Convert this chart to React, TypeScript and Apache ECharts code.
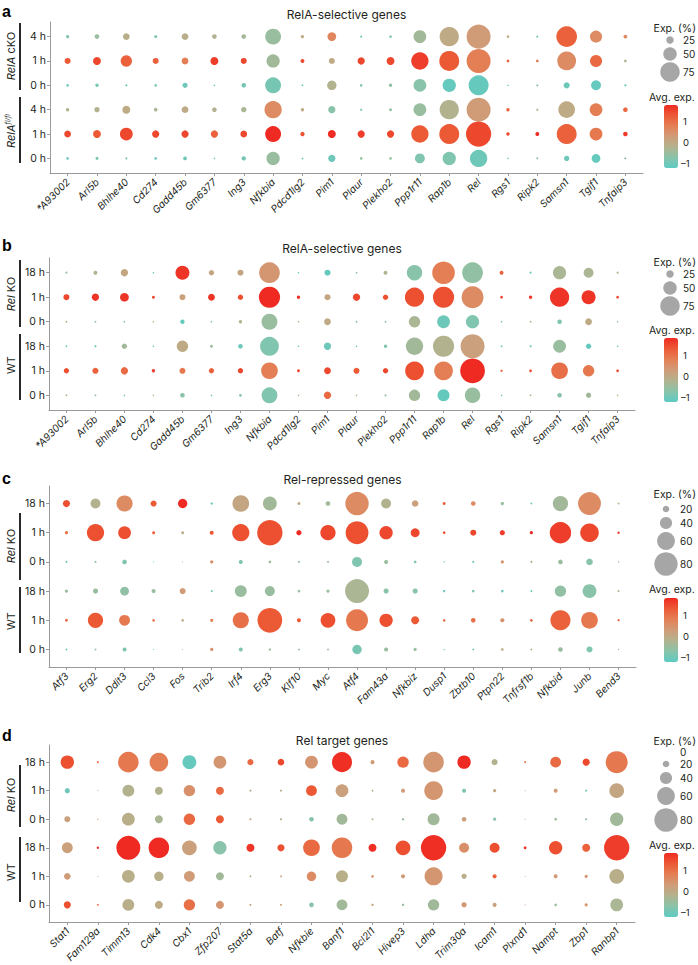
import React, { useEffect, useRef } from "react";
import * as echarts from "echarts";

// ---------------- DATA ----------------
const ROWS_A = ["4 h", "1 h", "0 h", "4 h", "1 h", "0 h"];
const ROWS_BCD = ["18 h", "1 h", "0 h", "18 h", "1 h", "0 h"];

const GENES_A = ["*A93002", "Arl5b", "Bhlhe40", "Cd274", "Gadd45b", "Gm6377", "Ing3", "Nfkbia", "Pdcd1lg2", "Pim1", "Plaur", "Plekho2", "Ppp1r11", "Rap1b", "Rel", "Rgs1", "Ripk2", "Samsn1", "Tgif1", "Tnfaip3"];
const GENES_B = GENES_A;
const GENES_C = ["Atf3", "Erg2", "Ddit3", "Ccl3", "Fos", "Trib2", "Irf4", "Erg3", "Klf10", "Myc", "Atf4", "Fam43a", "Nfkbiz", "Dusp1", "Zbtb10", "Ptpn22", "Tnfrsf1b", "Nfkbid", "Junb", "Bend3"];
const GENES_D = ["Stat1", "Fam129a", "Timm13", "Cdk4", "Cbx1", "Zfp207", "Stat5a", "Batf", "Nfkbie", "Banf1", "Bcl2l1", "Hivep3", "Ldha", "Trim30a", "Icam1", "Plxnd1", "Nampt", "Zbp1", "Ranbp1"];

// rows listed top to bottom as drawn
const A_PCT = [
  [8, 13, 22, 6, 22, 13, 13, 60, 8, 30, 2, 5, 47, 74, 94, 5, 2, 80, 44, 10],
  [19, 27, 41, 19, 22, 27, 19, 49, 10, 19, 24, 27, 66, 77, 94, 5, 5, 72, 44, 5],
  [5, 8, 2, 5, 15, 0, 13, 60, 1, 33, 5, 8, 47, 49, 77, 0, 2, 19, 35, 3],
  [8, 16, 27, 9, 22, 13, 16, 66, 8, 24, 3, 6, 47, 74, 94, 8, 3, 63, 47, 13],
  [22, 27, 47, 24, 24, 24, 22, 60, 12, 27, 24, 24, 66, 77, 99, 8, 10, 77, 47, 13],
  [5, 6, 2, 5, 10, 0, 12, 49, 1, 24, 5, 5, 35, 49, 66, 0, 2, 16, 30, 3],
];
const A_AVG = [
  [-0.8, -0.5, -0.1, -0.9, -0.1, -0.2, -0.4, -0.5, 0, 0.7, -0.9, -0.8, -0.4, 0, 0.3, 0, -0.9, 1.2, 0.6, 0.6],
  [1.3, 1.5, 1.2, 1.2, 0.8, 1.6, 1.5, -0.4, 1.5, 0, 1.5, 1.5, 1.6, 1.3, 0.8, 1.2, 0.8, 0.6, 1.1, -0.3],
  [-1, -0.9, -1, -0.9, -1, -1, -0.9, -0.9, -1, -0.2, -0.7, -0.6, -0.7, -1.1, -1.1, -1, -0.6, -1, -1.1, -1],
  [-0.2, -0.2, 0, -0.3, 0, -0.2, -0.3, 0.6, 0, -0.7, -0.8, -0.6, -0.5, -0.2, 0.3, 1.2, -0.3, 0, 0.8, 1.1],
  [1.5, 1.3, 1.5, 1.5, 1.5, 1.2, 1.5, 1.8, 1.4, 1.8, 1.6, 1.5, 1.3, 1.3, 1.5, 1.5, 1.85, 1.2, 0.9, 1.6],
  [-1, -0.9, -0.9, -1, -1, -1, -0.9, -0.5, -1, -1, -0.6, -0.6, -0.8, -0.8, -1, -1, -0.6, -1, -1.1, -0.6],
];

const B_PCT = [
  [2, 10, 24, 0, 52, 16, 19, 80, 0, 19, 1, 10, 58, 88, 80, 10, 2, 49, 35, 2],
  [19, 24, 30, 6, 19, 22, 16, 82, 8, 19, 24, 16, 74, 82, 85, 5, 8, 74, 52, 5],
  [1, 1, 0, 0, 12, 0, 8, 60, 0, 22, 1, 1, 41, 47, 49, 0, 1, 13, 22, 0],
  [1, 2, 16, 0, 41, 6, 13, 72, 0, 24, 0, 8, 66, 82, 94, 1, 2, 47, 16, 0],
  [16, 19, 24, 8, 19, 16, 16, 63, 6, 22, 19, 16, 72, 72, 97, 3, 5, 63, 41, 5],
  [1, 1, 0, 0, 13, 0, 5, 60, 0, 24, 0, 2, 41, 44, 58, 0, 1, 13, 16, 0],
];
const B_AVG = [
  [-0.5, -0.3, 0.1, -1, 1.7, 0.1, 0.1, 0.4, -1, -1.1, -0.5, -0.2, -0.7, 0.8, -0.6, 1.2, -1, -0.3, -0.3, -0.1],
  [1.5, 1.7, 1.7, 1.5, 0.2, 1.7, 1.4, 1.8, 1.7, 0.1, 1.5, 1.4, 1.4, 1.4, 0.6, 1.6, 1.6, 1.7, 1.7, 1.5],
  [-0.2, -0.5, -1, -0.2, -1.1, -1, -0.2, -0.5, -0.2, 0, -0.5, -0.5, -0.3, -1, -0.8, -1, -0.2, -0.8, 0, -0.5],
  [-1, -1, -0.4, -1, 0, -0.5, -1, -0.8, -1, -1, -1, -0.8, -0.4, -0.2, 0.2, -1, -1, -0.5, -1.1, -1],
  [1.4, 1.2, 1.1, 1.6, 0.9, 1.2, 1.5, 0.8, 1.5, 1.5, 1.3, 1.5, 1.4, 0.8, 1.85, 1.3, 1.4, 1.0, 0.9, 1.4],
  [-0.2, -0.5, -1, -0.2, -0.7, -1, -0.7, -0.8, -0.2, 1.1, -0.2, -0.5, -0.4, -1.1, -0.5, -1, -0.2, -0.7, -0.4, -0.2],
];

const C_PCT = [
  [22, 32, 54, 18, 30, 5, 56, 46, 7, 13, 80, 32, 20, 7, 13, 8, 3, 51, 78, 3],
  [8, 58, 42, 7, 7, 11, 58, 87, 15, 51, 78, 44, 28, 6, 18, 15, 8, 73, 63, 5],
  [3, 3, 13, 0, 0, 8, 11, 6, 3, 3, 32, 11, 6, 1, 4, 8, 3, 13, 20, 1],
  [8, 15, 28, 11, 18, 4, 39, 32, 6, 8, 82, 15, 15, 5, 6, 6, 3, 37, 46, 3],
  [7, 51, 35, 6, 6, 8, 54, 85, 11, 49, 75, 44, 25, 6, 13, 11, 6, 68, 56, 4],
  [3, 3, 11, 0, 0, 8, 11, 5, 3, 3, 30, 11, 8, 1, 3, 6, 3, 13, 18, 1],
];
const C_AVG = [
  [1.4, -0.2, 0.6, 1.3, 1.85, -1, 0.1, -0.4, 0, -0.4, 0.6, -0.2, 0.2, 1.3, 0.6, -0.5, -1, -0.4, 0.6, -0.2],
  [1.0, 1.4, 1.4, 1.3, -0.1, 1.3, 1.4, 1.4, 1.8, 1.5, 1.4, 1.5, 1.5, 1.4, 1.5, 1.6, 1.8, 1.6, 1.5, 1.7],
  [-1, -0.5, -0.8, -1, -0.7, 0.5, -0.8, -0.5, -0.5, -0.5, -0.8, -0.5, -0.8, -1, -1, 0.4, -0.1, -0.5, -0.7, -0.5],
  [-0.5, -0.5, -0.6, -0.5, 0.3, -1, -0.5, -0.5, -0.5, -0.5, -0.3, -0.7, -0.7, -1, -0.8, -1, -1, -0.6, -0.7, -0.2],
  [1.0, 1.3, 0.9, 1.0, -0.1, 0.8, 1.0, 1.3, 1.3, 1.4, 0.9, 1.4, 1.3, 1.0, 1.0, 0.5, 1.3, 1.2, 0.9, 1.4],
  [-1, -0.5, -0.8, -1, -0.1, 0.5, -0.8, -0.5, -0.5, -0.5, -0.9, -0.5, -0.5, -1, -1, -0.1, -0.1, -0.5, -0.8, -0.5],
];

const D_PCT = [
  [44, 3, 70, 63, 46, 42, 18, 20, 42, 68, 11, 37, 70, 44, 18, 3, 35, 22, 75],
  [15, 0, 39, 25, 37, 25, 4, 4, 35, 42, 3, 11, 63, 11, 8, 0, 11, 4, 49],
  [18, 1, 42, 25, 37, 25, 4, 4, 13, 35, 3, 5, 39, 13, 8, 0, 6, 4, 44],
  [35, 5, 82, 70, 49, 44, 25, 22, 56, 70, 25, 49, 87, 32, 32, 6, 44, 25, 87],
  [20, 0, 42, 30, 35, 25, 3, 3, 30, 39, 6, 11, 61, 15, 11, 0, 11, 8, 49],
  [22, 3, 39, 25, 37, 25, 4, 4, 13, 35, 5, 5, 37, 15, 11, 0, 6, 8, 42],
];
const D_AVG = [
  [1.4, 1.2, 0.9, 0.8, -1.1, 0.4, 1.1, 1.5, 0.4, 1.75, 0.3, 1.1, 0.4, 1.8, -0.2, 0.9, 1.1, 1.5, 0.9],
  [-1, -0.1, -0.2, -0.2, 0.5, 1.1, -0.1, -0.1, 1.3, 0.2, -0.1, 0.3, 0.4, -0.8, 0.1, 0, 0.3, -1, 0.1],
  [0.2, 0.2, -0.1, -0.3, 1.1, 1.3, 0.1, -0.1, -0.7, -0.4, -0.1, -0.5, -0.4, 0.2, -0.7, 0.1, -0.5, -0.5, -0.4],
  [0.2, 1.8, 1.8, 1.8, 0.2, -0.7, 1.7, 1.4, 1.1, 0.9, 1.75, 1.4, 1.75, 0.5, 1.4, 1.8, 1.4, 1.2, 1.6],
  [0.3, 0.2, -0.1, -0.1, 0.3, -0.4, -0.1, 0.2, 0.6, -0.1, 0.5, 0.3, 0.4, -0.1, 1.2, 0.2, 0.3, 0.4, -0.1],
  [1.4, 0.8, -0.1, 0, 1.0, 0.4, 0.2, 0.2, -0.7, -0.4, 0.2, -0.5, -0.4, 0.4, 0.2, 0.3, -0.5, 0.4, -0.3],
];

const SIZE_TICKS_AB = [25, 50, 75];
const SIZE_TICKS_C = [20, 40, 60, 80];
const SIZE_TICKS_D = [0, 20, 40, 60, 80];
const COLOR_TICKS = [1, 0, -1];
const AVG_MIN = -1.2;
const AVG_MAX = 1.8;

// ---------------- STYLE ----------------
const FONT = "Inter, 'Noto Sans', sans-serif";
const INK = "#231f20";
const AXIS = "#9a9a9a";
const PALETTE = ["#5ccbc3", "#89c3aa", "#b2b38e", "#d09c78", "#e47f55", "#ec5a35", "#ef2a22"];

const sizeAB = (p: number) => Math.max(1.2, 0.24 * p + 1.5);
const sizeCD = (p: number) => Math.max(1, 0.28 * p + 1);

const PANELS = [
  {
    letter: "a", letterY: 3, title: "RelA-selective genes", titleY: 14,
    grid: { left: 50, top: 22, width: 593, height: 151 },
    genes: GENES_A, rows: ROWS_A, pct: A_PCT, avg: A_AVG, size: sizeAB, sizeTicks: SIZE_TICKS_AB,
    legend: { expY: 28, circleYs: [40, 54, 72], avgY: 97, barTop: 105, barH: 63 },
    groups: [
      { y1: 23, y2: 90, cy: 56, text: "{i|RelA} cKO" },
      { y1: 97, y2: 163, cy: 131, text: "{i|RelA}{sup|fl/fl}" },
    ],
  },
  {
    letter: "b", letterY: 237, title: "RelA-selective genes", titleY: 248,
    grid: { left: 49, top: 258, width: 586, height: 152 },
    genes: GENES_B, rows: ROWS_BCD, pct: B_PCT, avg: B_AVG, size: sizeAB, sizeTicks: SIZE_TICKS_AB,
    legend: { expY: 262, circleYs: [274, 288, 306], avgY: 330, barTop: 338, barH: 64 },
    groups: [
      { y1: 260, y2: 327, cy: 294, text: "{i|Rel} KO" },
      { y1: 334, y2: 400, cy: 365, text: "WT" },
    ],
  },
  {
    letter: "c", letterY: 470, title: "Rel-repressed genes", titleY: 479,
    grid: { left: 49, top: 486, width: 587, height: 181 },
    genes: GENES_C, rows: ROWS_BCD, pct: C_PCT, avg: C_AVG, size: sizeCD, sizeTicks: SIZE_TICKS_C,
    legend: { expY: 494, circleYs: [509, 523, 541, 564], avgY: 589, barTop: 598, barH: 64 },
    groups: [
      { y1: 513, y2: 580, cy: 546, text: "{i|Rel} KO" },
      { y1: 587, y2: 653, cy: 621, text: "WT" },
    ],
  },
  {
    letter: "d", letterY: 727, title: "Rel target genes", titleY: 740,
    grid: { left: 49, top: 745, width: 586, height: 177 },
    genes: GENES_D, rows: ROWS_BCD, pct: D_PCT, avg: D_AVG, size: sizeCD, sizeTicks: SIZE_TICKS_D,
    legend: { expY: 741, circleYs: [752, 764, 778, 796, 820], avgY: 845, barTop: 853, barH: 64 },
    groups: [
      { y1: 765, y2: 827, cy: 795, text: "{i|Rel} KO" },
      { y1: 837, y2: 902, cy: 872, text: "WT" },
    ],
  },
];

function buildOption() {
  const grids: any[] = [];
  const xAxes: any[] = [];
  const yAxes: any[] = [];
  const series: any[] = [];
  const visualMaps: any[] = [];
  const graphics: any[] = [];

  PANELS.forEach((p, i) => {
    const n = p.genes.length;
    const xIdx = p.genes.map((_, k) => k);
    const yIdx = p.rows.map((_, k) => k);
    grids.push({ ...p.grid, containLabel: false });
    xAxes.push({
      type: "value", gridIndex: i, min: -0.6, max: n - 0.4,
      splitLine: { show: false },
      axisLine: { show: true, onZero: false, lineStyle: { color: AXIS, width: 1 } },
      axisTick: { show: true, length: 3, customValues: xIdx, lineStyle: { color: AXIS } },
      axisLabel: {
        customValues: xIdx, rotate: 45, margin: 7,
        formatter: (v: number) => p.genes[Math.round(v)],
        fontSize: 10, fontStyle: "italic", color: INK, fontFamily: FONT,
      },
    });
    yAxes.push({
      type: "value", gridIndex: i, inverse: true, min: -0.6, max: 5.6,
      splitLine: { show: false },
      axisLine: { show: true, onZero: false, lineStyle: { color: AXIS, width: 1 } },
      axisTick: { show: true, length: 3, customValues: yIdx, lineStyle: { color: AXIS } },
      axisLabel: {
        customValues: yIdx, margin: 4,
        formatter: (v: number) => p.rows[Math.round(v)],
        fontSize: 10.5, color: INK, fontFamily: FONT,
      },
    });
    const data: any[] = [];
    p.pct.forEach((row, r) => row.forEach((v, g) => data.push([g, r, v, p.avg[r][g]])));
    series.push({
      type: "scatter", xAxisIndex: i, yAxisIndex: i, data,
      symbol: "circle",
      symbolSize: (val: number[]) => p.size(val[2]),
      itemStyle: { opacity: 1 },
      emphasis: { disabled: true },
    });
    const L = p.legend;
    visualMaps.push({
      type: "continuous", seriesIndex: i, dimension: 3,
      min: AVG_MIN, max: AVG_MAX, calculable: false, hoverLink: false,
      itemWidth: 14, itemHeight: L.barH, left: 664, top: L.barTop, padding: 0,
      text: null, showLabel: false,
      inRange: { color: PALETTE },
      textStyle: { color: INK, fontSize: 9 },
    });

    // panel letter and title
    graphics.push({
      type: "text", x: 2, y: p.letterY,
      style: { text: p.letter, fontSize: 16, fontWeight: "bold", fontFamily: "'Liberation Sans', Arial, sans-serif", fill: "#000", verticalAlign: "top" },
    });
    graphics.push({
      type: "text", x: p.grid.left + p.grid.width / 2, y: p.titleY,
      style: { text: p.title, fontSize: 12, fontFamily: FONT, fill: INK, align: "center", verticalAlign: "middle" },
    });
    // group bars + labels
    p.groups.forEach((g) => {
      graphics.push({ type: "line", shape: { x1: 20, y1: g.y1, x2: 20, y2: g.y2 }, style: { stroke: "#111", lineWidth: 1.8 } });
      graphics.push({
        type: "text", x: 11, y: g.cy, rotation: Math.PI / 2,
        style: {
          text: g.text, fontSize: 11, fontFamily: FONT, fill: INK, align: "center", verticalAlign: "middle",
          rich: {
            i: { fontStyle: "italic", fontSize: 11, fontFamily: FONT, fill: INK },
            sup: { fontStyle: "italic", fontSize: 6.5, fontFamily: FONT, fill: INK, verticalAlign: "top", padding: [0, 0, 6, 0] },
          },
        },
      });
    });
    // size legend
    graphics.push({
      type: "text", x: 696, y: L.expY,
      style: { text: "Exp. (%)", fontSize: 10.5, fontFamily: FONT, fill: INK, align: "right", verticalAlign: "middle" },
    });
    p.sizeTicks.forEach((t, k) => {
      const cy = L.circleYs[k];
      const cx = i < 2 ? 670 : 666;
      graphics.push({ type: "circle", shape: { cx, cy, r: p.size(t) / 2 }, style: { fill: "#a6a6a6" } });
      graphics.push({
        type: "text", x: i < 2 ? 683 : 680, y: cy,
        style: { text: String(t), fontSize: 10, fontFamily: FONT, fill: INK, align: "left", verticalAlign: "middle" },
      });
    });
    // colour legend
    graphics.push({
      type: "text", x: 649, y: L.avgY,
      style: { text: "Avg. exp.", fontSize: 10.5, fontFamily: FONT, fill: INK, align: "left", verticalAlign: "middle" },
    });
    COLOR_TICKS.forEach((t) => {
      const y = L.barTop + ((AVG_MAX - t) / (AVG_MAX - AVG_MIN)) * L.barH;
      graphics.push({
        type: "text", x: t < 0 ? 681 : 683, y,
        style: { text: t < 0 ? "\u20131" : String(t), fontSize: 9.5, fontFamily: FONT, fill: INK, align: "left", verticalAlign: "middle" },
      });
    });
  });

  return {
    animation: false,
    backgroundColor: "#ffffff",
    textStyle: { fontFamily: FONT },
    grid: grids,
    xAxis: xAxes,
    yAxis: yAxes,
    visualMap: visualMaps,
    series,
    graphic: { elements: graphics },
  };
}

export default function App() {
  const ref = useRef<HTMLDivElement>(null);
  useEffect(() => {
    if (!ref.current) return;
    const chart = echarts.init(ref.current, undefined, { renderer: "svg" });
    chart.setOption(buildOption() as any);
    return () => chart.dispose();
  }, []);
  return (
    <div
      ref={ref}
      style={{ position: "absolute", left: 0, top: 0, width: 698, height: 965, background: "#fff" }}
    />
  );
}
